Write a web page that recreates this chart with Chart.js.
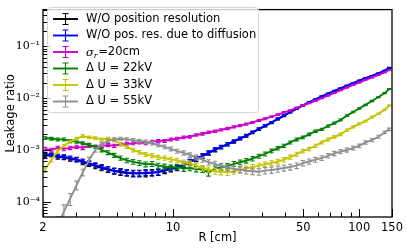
<!DOCTYPE html>
<html>
<head>
<meta charset="utf-8">
<script src="https://cdn.jsdelivr.net/npm/chart.js@4.4.1/dist/chart.umd.min.js"></script>
<style>
  body { margin: 0; background: #fff; }
  #chart { display: block; }
</style>
</head>
<body>
<canvas id="chart" width="407" height="249"></canvas>
<script>
// bin centres in R [cm]
const radius = [2.05, 2.22, 2.40, 2.59, 2.80, 3.03, 3.27, 3.54, 3.82, 4.13,
  4.47, 4.83, 5.22, 5.64, 6.10, 6.59, 7.12, 7.70, 8.32, 9.00,
  9.72, 10.5, 11.4, 12.3, 13.3, 14.4, 15.5, 16.8, 18.1, 19.6,
  21.2, 22.9, 24.7, 26.7, 28.9, 31.2, 33.8, 36.5, 39.4, 42.6,
  46.1, 49.8, 53.8, 58.2, 62.9, 68.0, 73.5, 79.4, 85.8, 92.8,
  100, 108, 117, 127, 137, 145];

const noPosRes = [7.8e-4, 7.9e-4, 7.3e-4, 7.2e-4, 6.7e-4, 6.5e-4, 5.8e-4, 5.4e-4, 4.9e-4, 4.5e-4,
  4.2e-4, 3.9e-4, 3.7e-4, 3.6e-4, 3.5e-4, 3.6e-4, 3.5e-4, 3.7e-4, 3.7e-4, 4.0e-4,
  4.3e-4, 4.5e-4, 5.1e-4, 5.9e-4, 6.6e-4, 7.6e-4, 8.7e-4, 1.0e-3, 1.13e-3, 1.28e-3,
  1.45e-3, 1.66e-3, 1.88e-3, 2.17e-3, 2.52e-3, 2.92e-3, 3.36e-3, 3.95e-3, 4.55e-3, 5.35e-3,
  6.25e-3, 7.2e-3, 8.3e-3, 9.4e-3, 1.07e-2, 1.21e-2, 1.37e-2, 1.54e-2, 1.73e-2, 1.94e-2,
  2.17e-2, 2.41e-2, 2.69e-2, 3.0e-2, 3.38e-2, 3.78e-2];

const noDiffRes = [8.3e-4, 8.0e-4, 7.6e-4, 7.4e-4, 7.0e-4, 6.6e-4, 6.1e-4, 5.6e-4, 5.1e-4, 4.7e-4,
  4.3e-4, 4.0e-4, 3.9e-4, 3.7e-4, 3.6e-4, 3.5e-4, 3.7e-4, 3.6e-4, 3.8e-4, 4.2e-4,
  4.4e-4, 4.6e-4, 5.3e-4, 6.0e-4, 6.8e-4, 7.8e-4, 8.9e-4, 1.03e-3, 1.15e-3, 1.30e-3,
  1.48e-3, 1.68e-3, 1.90e-3, 2.20e-3, 2.55e-3, 2.95e-3, 3.4e-3, 4.0e-3, 4.6e-3, 5.4e-3,
  6.3e-3, 7.3e-3, 8.4e-3, 9.5e-3, 1.08e-2, 1.22e-2, 1.38e-2, 1.55e-2, 1.74e-2, 1.95e-2,
  2.18e-2, 2.42e-2, 2.7e-2, 3.0e-2, 3.4e-2, 3.9e-2];

const sigma20 = [1.05e-3, 1.0e-3, 1.1e-3, 1.05e-3, 1.1e-3, 1.15e-3, 1.1e-3, 1.2e-3, 1.15e-3, 1.2e-3,
  1.25e-3, 1.2e-3, 1.3e-3, 1.3e-3, 1.35e-3, 1.4e-3, 1.35e-3, 1.45e-3, 1.5e-3, 1.5e-3,
  1.6e-3, 1.65e-3, 1.75e-3, 1.8e-3, 1.95e-3, 2.05e-3, 2.2e-3, 2.3e-3, 2.45e-3, 2.6e-3,
  2.8e-3, 2.95e-3, 3.15e-3, 3.4e-3, 3.7e-3, 4.0e-3, 4.4e-3, 4.8e-3, 5.3e-3, 5.8e-3,
  6.5e-3, 7.2e-3, 8.0e-3, 8.9e-3, 1.0e-2, 1.12e-2, 1.26e-2, 1.42e-2, 1.6e-2, 1.8e-2,
  2.0e-2, 2.25e-2, 2.5e-2, 2.8e-2, 3.15e-2, 3.5e-2];

const dU22 = [1.7e-3, 1.65e-3, 1.6e-3, 1.6e-3, 1.5e-3, 1.45e-3, 1.35e-3, 1.25e-3, 1.15e-3, 1.0e-3,
  8.9e-4, 7.9e-4, 7.0e-4, 6.3e-4, 5.9e-4, 5.6e-4, 5.3e-4, 5.4e-4, 5.0e-4, 4.8e-4,
  4.6e-4, 4.7e-4, 4.4e-4, 4.5e-4, 4.3e-4, 4.2e-4, 3.6e-4, 4.4e-4, 4.6e-4, 4.9e-4,
  5.4e-4, 5.8e-4, 6.2e-4, 6.8e-4, 7.6e-4, 8.4e-4, 9.6e-4, 1.08e-3, 1.2e-3, 1.4e-3,
  1.6e-3, 1.75e-3, 2.0e-3, 2.3e-3, 2.5e-3, 2.9e-3, 3.3e-3, 3.8e-3, 4.6e-3, 5.4e-3,
  6.3e-3, 7.4e-3, 8.8e-3, 1.05e-2, 1.25e-2, 1.5e-2];

const dU33 = [4.2e-4, 6.5e-4, 9.5e-4, 1.2e-3, 1.45e-3, 1.65e-3, 1.85e-3, 1.75e-3, 1.7e-3, 1.6e-3,
  1.65e-3, 1.55e-3, 1.3e-3, 1.15e-3, 1.0e-3, 9.0e-4, 8.2e-4, 7.8e-4, 7.2e-4, 7.0e-4,
  6.6e-4, 6.3e-4, 5.8e-4, 5.5e-4, 5.0e-4, 4.5e-4, 4.2e-4, 3.9e-4, 3.8e-4, 3.7e-4,
  3.9e-4, 4.1e-4, 4.4e-4, 4.7e-4, 5.0e-4, 5.3e-4, 5.6e-4, 6.0e-4, 6.5e-4, 7.3e-4,
  8.3e-4, 9.5e-4, 1.05e-3, 1.2e-3, 1.4e-3, 1.6e-3, 1.8e-3, 2.0e-3, 2.4e-3, 2.8e-3,
  3.2e-3, 3.6e-3, 4.3e-3, 5.0e-3, 6.0e-3, 7.2e-3];

const dU55 = [1.0e-5, 2.0e-5, 3.5e-5, 6.5e-5, 1.15e-4, 2.1e-4, 3.7e-4, 6.5e-4, 1.0e-3, 1.3e-3,
  1.5e-3, 1.6e-3, 1.65e-3, 1.6e-3, 1.55e-3, 1.5e-3, 1.45e-3, 1.35e-3, 1.25e-3, 1.15e-3,
  1.05e-3, 9.5e-4, 8.8e-4, 8.0e-4, 7.2e-4, 6.5e-4, 5.8e-4, 5.4e-4, 4.9e-4, 4.6e-4,
  4.3e-4, 4.2e-4, 4.0e-4, 3.9e-4, 3.8e-4, 4.0e-4, 4.1e-4, 4.3e-4, 4.5e-4, 4.7e-4,
  5.0e-4, 5.6e-4, 6.0e-4, 6.5e-4, 7.0e-4, 7.8e-4, 8.6e-4, 9.3e-4, 1.0e-3, 1.1e-3,
  1.2e-3, 1.4e-3, 1.55e-3, 1.8e-3, 2.2e-3, 2.5e-3];

const seriesLabels = ['W/O position resolution', 'W/O pos. res. due to diffusion', 'σr=20cm',
  'Δ U = 22kV', 'Δ U = 33kV', 'Δ U = 55kV'];
const seriesValues = [noPosRes, noDiffRes, sigma20, dU22, dU33, dU55];
// statistical error ~ k * sqrt(value)
const errK = [0.0025, 0.0025, 0.0025, 0.0025, 0.0025, 0.0028];

const xTickLabels = [2, 10, 50, 100, 150];
const yTickLabels = [1e-4, 1e-3, 1e-2, 1e-1];

const colors = ['#000000', '#0000ff', '#cc00cc', '#008000', '#c4c400', '#8f8f8f'];

const supDigits = {'-': '⁻', '0': '⁰', '1': '¹', '2': '²', '3': '³', '4': '⁴', '5': '⁵', '6': '⁶', '7': '⁷', '8': '⁸', '9': '⁹'};
const pow10Label = v => '10' + String(Math.round(Math.log10(v))).split('').map(c => supDigits[c]).join('');

function logTicks(min, max) {
  const out = [];
  for (let e = Math.floor(Math.log10(min)); e <= Math.ceil(Math.log10(max)); e++) {
    for (let k = 1; k < 10; k++) {
      const v = k * Math.pow(10, e);
      if (v >= min * 0.999 && v <= max * 1.001) out.push(v);
    }
  }
  return out;
}
const isLabel = (list, v) => list.some(t => Math.abs(t - v) / t < 1e-6);

const datasets = seriesValues.map((vals, i) => ({
  label: seriesLabels[i],
  data: radius.map((r, j) => ({ x: r, y: vals[j] })),
  borderColor: colors[i],
  backgroundColor: colors[i],
  borderWidth: 1.9,
  pointRadius: 0,
  tension: 0,
  order: seriesValues.length - i
}));

const errorBars = {
  id: 'errorBars',
  afterDatasetDraw(chart, args) {
    const i = args.index;
    const { ctx, chartArea, scales: { x, y } } = chart;
    const ds = chart.data.datasets[i];
    ctx.save();
    ctx.beginPath();
    ctx.rect(chartArea.left, chartArea.top, chartArea.width, chartArea.height);
    ctx.clip();
    ctx.strokeStyle = ds.borderColor;
    ctx.lineWidth = 1.1;
    ds.data.forEach(p => {
      const e = errK[i] * Math.sqrt(p.y);
      const px = x.getPixelForValue(p.x);
      const top = y.getPixelForValue(p.y + e);
      const bot = y.getPixelForValue(Math.max(p.y - e, 1e-9));
      ctx.beginPath();
      ctx.moveTo(px, top); ctx.lineTo(px, bot);
      ctx.moveTo(px - 2.2, top); ctx.lineTo(px + 2.2, top);
      ctx.moveTo(px - 2.2, bot); ctx.lineTo(px + 2.2, bot);
      ctx.stroke();
    });
    ctx.restore();
  }
};

const frameAndLegend = {
  id: 'frameAndLegend',
  afterDatasetsDraw(chart) {
    const { ctx, chartArea: a, scales: { x, y } } = chart;
    ctx.save();
    ctx.strokeStyle = '#000';
    ctx.lineWidth = 1;
    // inward ticks
    x.ticks.forEach(t => {
      const px = Math.round(x.getPixelForValue(t.value)) + 0.5;
      const len = isLabel(xTickLabels, t.value) ? 8 : 4.5;
      ctx.beginPath(); ctx.moveTo(px, a.bottom); ctx.lineTo(px, a.bottom - len); ctx.stroke();
    });
    y.ticks.forEach(t => {
      const py = Math.round(y.getPixelForValue(t.value)) + 0.5;
      const len = isLabel(yTickLabels, t.value) ? 8 : 4.5;
      ctx.beginPath(); ctx.moveTo(a.left, py); ctx.lineTo(a.left + len, py); ctx.stroke();
    });
    ctx.lineWidth = 1.3;
    ctx.strokeRect(a.left, a.top, a.right - a.left, a.bottom - a.top);

    // legend
    ctx.beginPath();
    ctx.roundRect(47.5, 7.5, 211, 105, 3);
    ctx.fillStyle = 'rgba(255,255,255,0.8)';
    ctx.fill();
    ctx.strokeStyle = '#d6d6d6';
    ctx.lineWidth = 1;
    ctx.stroke();
    seriesLabels.forEach((lab, i) => {
      const ly = 19 + i * 16.5;
      ctx.strokeStyle = colors[i];
      ctx.lineWidth = 1.9;
      ctx.beginPath(); ctx.moveTo(53, ly); ctx.lineTo(78, ly); ctx.stroke();
      ctx.lineWidth = 1.1;
      ctx.beginPath();
      ctx.moveTo(65.5, ly - 5.5); ctx.lineTo(65.5, ly + 5.5);
      ctx.moveTo(62.5, ly - 5.5); ctx.lineTo(68.5, ly - 5.5);
      ctx.moveTo(62.5, ly + 5.5); ctx.lineTo(68.5, ly + 5.5);
      ctx.stroke();
      ctx.fillStyle = '#000';
      ctx.textBaseline = 'middle';
      ctx.textAlign = 'left';
      if (lab.startsWith('σr')) {
        ctx.font = 'italic 11.5px "DejaVu Serif"';
        ctx.fillText('σ', 86, ly + 1);
        const w = ctx.measureText('σ').width;
        ctx.font = 'italic 8px "DejaVu Serif"';
        ctx.fillText('r', 86 + w, ly + 4);
        const w2 = ctx.measureText('r').width;
        ctx.font = '11.5px "DejaVu Sans"';
        ctx.fillText(lab.slice(2), 86 + w + w2 + 0.5, ly);
      } else {
        ctx.font = '11.5px "DejaVu Sans"';
        ctx.fillText(lab, 86, ly);
      }
    });
    ctx.restore();
  }
};

new Chart(document.getElementById('chart'), {
  type: 'line',
  data: { datasets },
  options: {
    responsive: false,
    animation: false,
    layout: { padding: { top: 4, right: 15, left: 0, bottom: 0 } },
    plugins: { legend: { display: false }, tooltip: { enabled: false } },
    scales: {
      x: {
        type: 'logarithmic',
        min: 2,
        max: 150,
        grid: { display: false, drawTicks: false },
        border: { display: false },
        afterBuildTicks: s => {
          s.ticks = logTicks(2, 100).concat([150]).map(v => ({ value: v }));
        },
        afterFit: s => { s.height = 32; },
        ticks: {
          autoSkip: false,
          maxRotation: 0,
          padding: 4,
          color: '#000',
          font: { family: 'DejaVu Sans', size: 11.5 },
          callback: v => isLabel(xTickLabels, v) ? String(v) : ''
        },
        title: {
          display: true,
          text: 'R [cm]',
          color: '#000',
          font: { family: 'DejaVu Sans', size: 11.5 },
          padding: { top: 0, bottom: 4 }
        }
      },
      y: {
        type: 'logarithmic',
        min: 5.1e-5,
        max: 0.51,
        grid: { display: false, drawTicks: false },
        border: { display: false },
        afterBuildTicks: s => {
          s.ticks = logTicks(5.1e-5, 0.51).map(v => ({ value: v }));
        },
        afterFit: s => { s.width = 43; },
        ticks: {
          autoSkip: false,
          padding: 3,
          color: '#000',
          font: { family: 'DejaVu Serif', size: 11 },
          callback: v => isLabel(yTickLabels, v) ? pow10Label(v) : ''
        },
        title: {
          display: true,
          text: 'Leakage ratio',
          color: '#000',
          font: { family: 'DejaVu Sans', size: 11.5 },
          padding: { top: 4, bottom: 0 }
        }
      }
    }
  },
  plugins: [errorBars, frameAndLegend]
});
</script>
</body>
</html>
